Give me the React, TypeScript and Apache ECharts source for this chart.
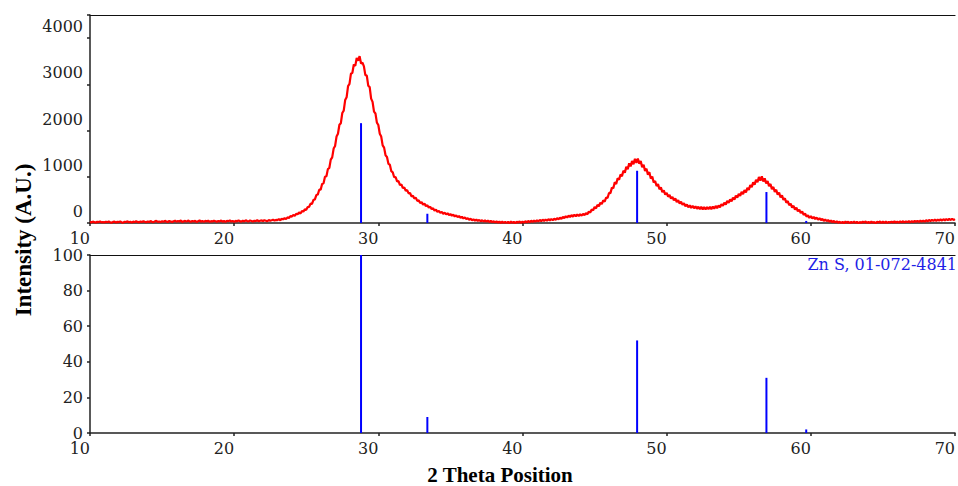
import React, { useEffect, useRef } from "react";
import * as echarts from "echarts";

const ANGLE_START = 10;
const ANGLE_STEP = 0.1;
const intensity: number[] = [
  24, 12, 30, 18, 8, 26, 20, 34, 14, 22,
  10, 28, 18, 32, 16, 6, 24, 30, 12, 26,
  20, 34, 14, 8, 28, 22, 36, 16, 26, 12,
  30, 18, 38, 24, 14, 32, 20, 40, 26, 16,
  34, 22, 42, 28, 18, 36, 46, 24, 32, 20,
  40, 26, 48, 30, 22, 44, 34, 20, 38, 50,
  28, 42, 32, 54, 24, 38, 46, 30, 52, 36,
  26, 44, 34, 48, 22, 40, 56, 30, 42, 28,
  46, 34, 52, 24, 40, 32, 50, 38, 26, 44,
  36, 54, 30, 42, 24, 48, 38, 56, 32, 44,
  28, 46, 36, 52, 40, 30, 50, 34, 58, 42,
  36, 54, 44, 30, 50, 40, 60, 38, 48, 56,
  42, 60, 50, 38, 64, 48, 58, 70, 52, 66,
  62, 86, 58, 94, 78, 106, 84, 122, 108, 148,
  138, 172, 155, 198, 190, 228, 205, 256, 248, 294,
  285, 345, 350, 420, 415, 500, 510, 605, 615, 720,
  720, 845, 860, 1000, 1010, 1165, 1190, 1370, 1420, 1610,
  1665, 1870, 1930, 2125, 2160, 2380, 2430, 2660, 2720, 2960,
  3010, 3230, 3250, 3430, 3400, 3570, 3510, 3610, 3450, 3470,
  3390, 3200, 3190, 2970, 2940, 2690, 2620, 2410, 2370, 2170,
  2120, 1930, 1870, 1680, 1630, 1465, 1430, 1280, 1260, 1120,
  1095, 990, 995, 900, 905, 820, 835, 755, 770, 695,
  712, 640, 648, 575, 592, 530, 548, 478, 492, 432,
  452, 398, 420, 366, 384, 332, 352, 300, 318, 268,
  288, 242, 262, 220, 240, 200, 224, 186, 210, 172,
  194, 158, 180, 142, 164, 128, 150, 114, 134, 98,
  120, 86, 104, 70, 92, 60, 80, 50, 72, 44,
  66, 38, 60, 32, 56, 28, 50, 22, 44, 18,
  38, 12, 34, 6, 30, 2, 28, 4, 26, 0,
  24, -4, 30, 6, 22, -2, 28, 8, 34, 4,
  32, 8, 38, 14, 44, 18, 50, 24, 54, 28,
  60, 34, 66, 40, 72, 44, 76, 50, 82, 56,
  86, 60, 94, 70, 104, 80, 114, 92, 130, 106,
  146, 120, 160, 130, 170, 138, 178, 146, 184, 150,
  190, 158, 198, 168, 212, 188, 246, 226, 292, 272,
  345, 318, 392, 362, 438, 410, 488, 462, 550, 540,
  650, 645, 765, 750, 880, 845, 970, 935, 1050, 1010,
  1130, 1090, 1215, 1165, 1290, 1225, 1340, 1270, 1390, 1300,
  1395, 1280, 1340, 1205, 1260, 1125, 1175, 1045, 1100, 960,
  1005, 875, 910, 800, 840, 730, 772, 668, 705, 615,
  650, 570, 605, 528, 565, 490, 530, 455, 495, 420,
  460, 392, 428, 362, 402, 340, 382, 325, 372, 318,
  362, 308, 352, 300, 348, 296, 344, 292, 342, 298,
  350, 300, 356, 310, 368, 322, 380, 340, 408, 370,
  440, 400, 475, 436, 510, 470, 548, 508, 590, 548,
  630, 585, 675, 625, 712, 662, 760, 718, 822, 775,
  880, 830, 935, 880, 995, 915, 1010, 900, 965, 855,
  910, 795, 845, 730, 780, 672, 720, 612, 660, 552,
  598, 500, 535, 440, 475, 385, 418, 335, 372, 292,
  330, 254, 290, 214, 250, 175, 208, 138, 168, 110,
  150, 100, 132, 84, 118, 72, 104, 60, 90, 46,
  76, 40, 64, 28, 54, 18, 46, 10, 38, 4,
  28, 0, 24, -4, 30, 6, 26, -2, 22, 8,
  30, 4, 26, -6, 20, 2, 28, 10, 32, 0,
  24, -2, 30, 6, 22, -4, 26, 8, 34, 2,
  28, 4, 32, 0, 24, 10, 30, 6, 36, 8,
  30, 8, 34, 14, 38, 12, 36, 18, 40, 16,
  42, 20, 44, 26, 48, 22, 50, 30, 54, 28,
  62, 36, 66, 42, 70, 44, 72, 48, 74, 52,
  78, 54, 82, 58, 86, 60, 88, 64, 92, 66,
  84,
];

// Reference pattern Zn S, 01-072-4841
const stickPos = [28.8, 33.4, 47.95, 56.92, 59.68];
const stickRel = [100, 9, 52, 31, 2];
const stickCounts = [2160, 200, 1130, 670, 45];

const xTicks = [10, 20, 30, 40, 50, 60, 70];
const topTickLabels = [0, 1000, 2000, 3000, 4000];
const refLabel = "Zn S, 01-072-4841";

const TICK_FONT = "DejaVu Serif";
const TITLE_FONT = "Liberation Serif";

export default function App() {
  const ref = useRef<HTMLDivElement>(null);

  useEffect(() => {
    if (!ref.current) return;
    const chart = echarts.init(ref.current, undefined, { renderer: "svg" });

    const measured = intensity.map((v, i) => [
      +(ANGLE_START + i * ANGLE_STEP).toFixed(2),
      v,
    ]);
    const topSticks = stickPos.map((p, i) => [p, stickCounts[i]]);
    const botSticks = stickPos.map((p, i) => [p, stickRel[i]]);

    const axisLineStyle = { color: "#222", width: 1.5 };
    const labelStyle = {
      color: "#222",
      fontFamily: TICK_FONT,
      fontSize: 16,
    };

    const xAxisBase = (gridIndex: number) => ({
      type: "value",
      gridIndex,
      min: xTicks[0],
      max: xTicks[xTicks.length - 1],
      interval: 10,
      position: "bottom",
      axisLine: { show: true, onZero: false, lineStyle: axisLineStyle },
      axisTick: { show: true, length: 3, lineStyle: { color: "#222", width: 1.5 } },
      axisLabel: {
        ...labelStyle,
        margin: 7,
        align: "right",
        showMinLabel: true,
        showMaxLabel: true,
      },
      splitLine: { show: false },
    });

    const topBorder = (gridIndex: number) => ({
      type: "value",
      gridIndex,
      min: 10,
      max: 70,
      position: "top",
      axisLine: { show: true, onZero: false, lineStyle: { color: "#111", width: 1.2 } },
      axisTick: { show: false },
      axisLabel: { show: false },
      splitLine: { show: false },
    });

    const stickItem = (params: any, api: any) => {
      const x = api.value(0);
      const y = api.value(1);
      const p0 = api.coord([x, 0]);
      const p1 = api.coord([x, y]);
      return {
        type: "line",
        shape: { x1: p0[0], y1: p0[1], x2: p1[0], y2: p1[1] },
        style: { stroke: "#0000ff", lineWidth: 2 },
      };
    };

    const option: any = {
      animation: false,
      backgroundColor: "#ffffff",
      grid: [
        { left: 90, right: 1, top: 15, height: 208 },
        { left: 90, right: 1, top: 255, height: 178 },
      ],
      xAxis: [xAxisBase(0), xAxisBase(1), topBorder(0), topBorder(1)],
      yAxis: [
        {
          type: "value",
          gridIndex: 0,
          position: "left",
          min: 0,
          max: 4500,
          interval: 1000,
          axisLine: { show: true, lineStyle: axisLineStyle },
          axisTick: { show: true, length: 3, lineStyle: { color: "#222", width: 1.5 } },
          axisLabel: { show: false },
          splitLine: { show: false },
        },
        {
          type: "value",
          gridIndex: 0,
          position: "left",
          offset: 0,
          min: -250,
          max: 4250,
          interval: 250,
          axisLine: { show: false },
          axisTick: { show: false },
          axisLabel: {
            ...labelStyle,
            margin: 7,
            showMinLabel: true,
            showMaxLabel: true,
            formatter: (v: number) =>
              topTickLabels.indexOf(Math.round(v)) >= 0 ? String(Math.round(v)) : "",
          },
          splitLine: { show: false },
        },
        {
          type: "value",
          gridIndex: 1,
          position: "left",
          min: 0,
          max: 100,
          interval: 20,
          axisLine: { show: true, lineStyle: axisLineStyle },
          axisTick: { show: true, length: 3, lineStyle: { color: "#222", width: 1.5 } },
          axisLabel: { ...labelStyle, margin: 7 },
          splitLine: { show: false },
        },
      ],
      series: [
        {
          type: "line",
          xAxisIndex: 0,
          yAxisIndex: 0,
          data: measured,
          showSymbol: false,
          symbol: "none",
          lineStyle: { color: "#ff0000", width: 2.2 },
          clip: true,
          z: 2,
        },
        {
          type: "custom",
          xAxisIndex: 0,
          yAxisIndex: 0,
          data: topSticks,
          renderItem: stickItem,
          z: 3,
        },
        {
          type: "custom",
          xAxisIndex: 1,
          yAxisIndex: 2,
          data: botSticks,
          renderItem: stickItem,
          z: 3,
        },
      ],
      graphic: [
        {
          type: "text",
          right: 1,
          top: 256,
          style: {
            text: refLabel,
            fill: "#1f1fe6",
            font: `16px "${TICK_FONT}"`,
          },
        },
        {
          type: "text",
          x: 23,
          y: 240,
          rotation: Math.PI / 2,
          style: {
            text: "Intensity (A.U.)",
            fill: "#000",
            font: `bold 23px "${TITLE_FONT}"`,
            align: "center",
            verticalAlign: "middle",
          },
        },
        {
          type: "text",
          x: 500,
          y: 475,
          style: {
            text: "2 Theta Position",
            fill: "#000",
            font: `bold 21px "${TITLE_FONT}"`,
            align: "center",
            verticalAlign: "middle",
          },
        },
      ],
    };

    chart.setOption(option);
    return () => chart.dispose();
  }, []);

  return (
    <div
      ref={ref}
      style={{ position: "fixed", left: 0, top: 0, width: 958, height: 486, background: "#fff" }}
    />
  );
}
